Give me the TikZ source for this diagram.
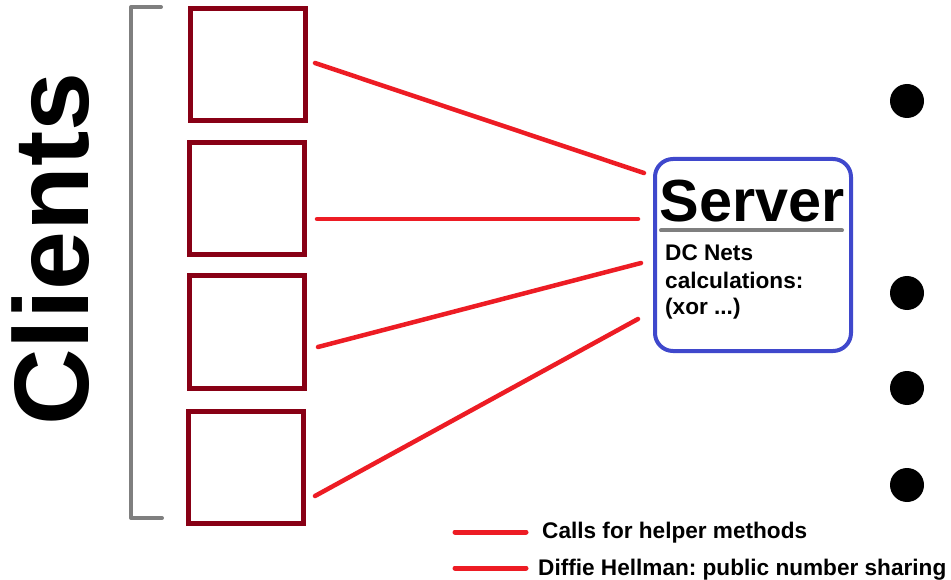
\documentclass[tikz,border=0pt]{standalone}
\usepackage{fontspec}
\setmainfont{Liberation Sans}
\usetikzlibrary{calc}
\frenchspacing

\definecolor{linkred}{HTML}{ED1C24}
\definecolor{clientred}{HTML}{880015}
\definecolor{serverblue}{HTML}{3F48CC}
\definecolor{bracketgray}{HTML}{7F7F7F}

\begin{document}
\begin{tikzpicture}[x=1pt,y=-1pt,
  client/.style={draw=clientred, line width=5pt, minimum width=115pt,
                 minimum height=112pt, inner sep=0pt},
  serverbox/.style={draw=serverblue, line width=4pt, rounded corners=18pt,
                    minimum width=196pt, minimum height=192pt, inner sep=0pt},
  link/.style={draw=linkred, line width=4.5pt, line cap=round},
  legendline/.style={draw=linkred, line width=5pt, line cap=round},
  smalltext/.style={inner sep=0pt, font=\fontsize{22.6}{27}\selectfont\bfseries},
  dot/.style={circle, fill=black, minimum size=34pt, inner sep=0pt},
]
\useasboundingbox (0,0) rectangle (951,580);

% vertical title
\node[rotate=90, anchor=base, inner sep=0pt,
      font=\fontsize{106}{110}\selectfont\bfseries] (title) at (88,249) {Clients};

% bracket grouping the clients
\coordinate (btop) at (161,7);
\coordinate (bbot) at (162,518);
\draw[bracketgray, line width=4pt, line cap=round, line join=round]
  (btop) -- (131,7) -- (131,518) -- (bbot);

% clients
\node[client] (c1) at (248,64.5) {};
\node[client] (c2) at (247,198.5) {};
\node[client] (c3) at (246.5,332) {};
\node[client] (c4) at (246,467.5) {};

% server
\node[serverbox] (server) at (753,255) {};
\node[anchor=base, inner sep=0pt, font=\fontsize{59.4}{62}\selectfont\bfseries]
  (stitle) at (752,222) {Server};
\coordinate (rulel) at (661,230.5);
\coordinate (ruler) at (842,230.5);
\draw[bracketgray, line width=4pt, line cap=round] (rulel) -- (ruler);
\node[smalltext, anchor=base west] (b1) at (665,261) {DC Nets};
\node[smalltext, anchor=base west] (b2) at (665,288) {calculations:};
\node[smalltext, anchor=base west] (b3) at (665,315) {(xor ...)};

% connection endpoints
\coordinate (o1) at (315,63);
\coordinate (o2) at (317,219);
\coordinate (o3) at (318,347);
\coordinate (o4) at (315,496);
\coordinate (i1) at (644,173);
\coordinate (i2) at (638,219);
\coordinate (i3) at (641,263);
\coordinate (i4) at (638,319);
\draw[link] (o1) -- (i1);
\draw[link] (o2) -- (i2);
\draw[link] (o3) -- (i3);
\draw[link] (o4) -- (i4);

% more clients
\node[dot] (d1) at (907,101) {};
\node[dot] (d2) at (907,293) {};
\node[dot] (d3) at (907,388) {};
\node[dot] (d4) at (907,485) {};

% legend
\coordinate (l1a) at (455,532);
\coordinate (l1b) at (526,532);
\coordinate (l2a) at (455,568);
\coordinate (l2b) at (526,568);
\draw[legendline] (l1a) -- (l1b);
\draw[legendline] (l2a) -- (l2b);
\node[smalltext, anchor=base west] (k1) at (542,538) {Calls for helper methods};
\node[smalltext, anchor=base west] (k2) at (538,575) {Diffie Hellman: public number sharing};
\end{tikzpicture}
\end{document}
